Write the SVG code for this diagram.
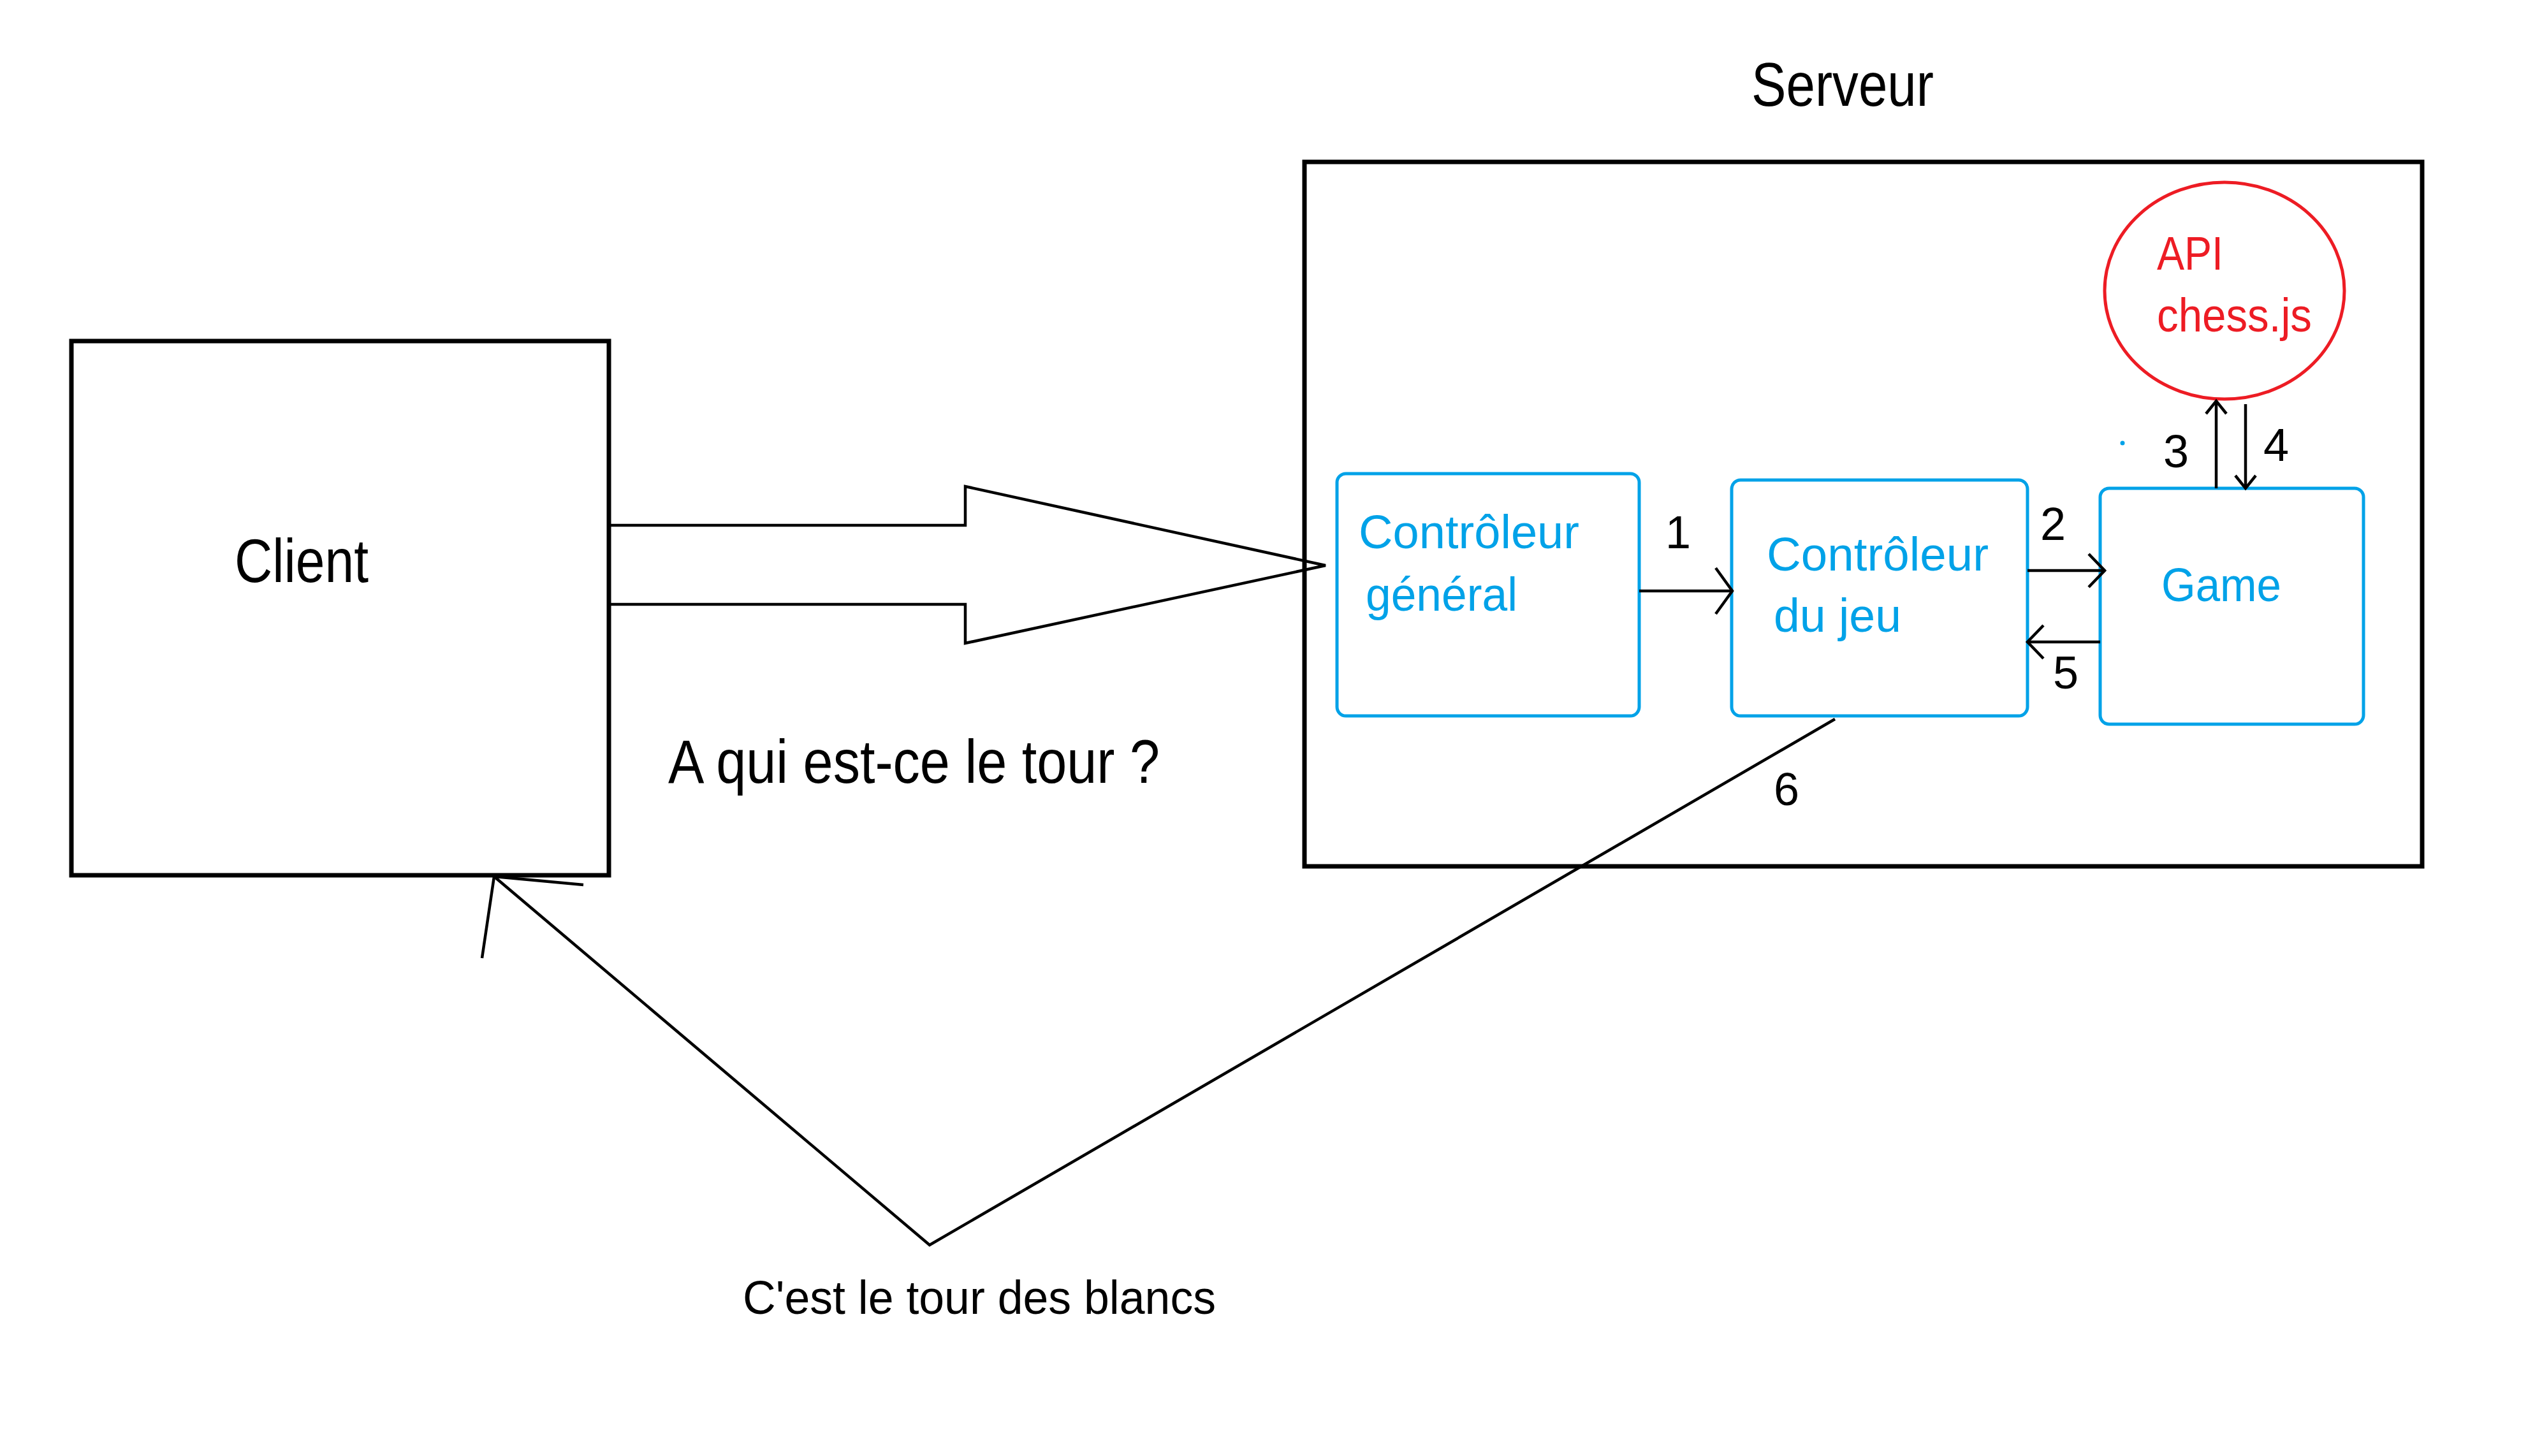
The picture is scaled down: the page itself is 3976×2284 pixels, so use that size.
<svg xmlns="http://www.w3.org/2000/svg" width="3976" height="2284" viewBox="0 0 3976 2284">
<style>
  .bk { fill: none; stroke: #000; stroke-width: 7; }
  .bl { fill: #fff; stroke: #00A2E8; stroke-width: 5; }
  .ln { fill: none; stroke: #000; stroke-width: 4.5; stroke-linejoin: miter; }
  .t { font-family: "Liberation Sans", Arial, sans-serif; }
  .big { font-size: 97px; fill: #000; }
  .mid { font-size: 74px; fill: #000; }
  .blue { font-size: 74px; fill: #00A2E8; }
  .red { font-size: 74px; fill: #ED1C24; }
  .num { font-size: 72px; fill: #000; }
</style>
<defs>
  <marker id="chevL" markerUnits="userSpaceOnUse" viewBox="-32 -42 38 84" refX="0" refY="0" markerWidth="38" markerHeight="84" orient="auto">
    <path d="M -26 -36 L 0 0 L -26 36" fill="none" stroke="#000" stroke-width="4.5"/>
  </marker>
  <marker id="chevM" markerUnits="userSpaceOnUse" viewBox="-32 -32 38 64" refX="0" refY="0" markerWidth="38" markerHeight="64" orient="auto">
    <path d="M -25 -26 L 0 0 L -25 26" fill="none" stroke="#000" stroke-width="4.5"/>
  </marker>
  <marker id="chevS" markerUnits="userSpaceOnUse" viewBox="-26 -22 32 44" refX="0" refY="0" markerWidth="32" markerHeight="44" orient="auto">
    <path d="M -20 -16 L 0 0 L -20 16" fill="none" stroke="#000" stroke-width="4.5"/>
  </marker>
</defs>
<rect width="3976" height="2284" fill="#fff"/>

<g id="server">
  <rect class="bk" x="2046" y="254" width="1753" height="1105"/>
  <text class="t big" x="2747" y="166" textLength="286" lengthAdjust="spacingAndGlyphs">Serveur</text>
</g>

<g id="client">
  <rect class="bk" x="112" y="535" width="843" height="838"/>
  <text class="t big" x="368" y="913" textLength="210" lengthAdjust="spacingAndGlyphs">Client</text>
</g>

<g id="controleur-general">
  <rect class="bl" x="2097" y="743" width="474" height="380" rx="14"/>
  <text class="t blue" x="2131" y="860" textLength="346" lengthAdjust="spacingAndGlyphs">Contrôleur</text>
  <text class="t blue" x="2142" y="958" textLength="238" lengthAdjust="spacingAndGlyphs">général</text>
</g>

<g id="controleur-jeu">
  <rect class="bl" x="2716" y="753" width="464" height="370" rx="14"/>
  <text class="t blue" x="2771" y="895" textLength="348" lengthAdjust="spacingAndGlyphs">Contrôleur</text>
  <text class="t blue" x="2782" y="991" textLength="200" lengthAdjust="spacingAndGlyphs">du jeu</text>
</g>

<g id="game">
  <rect class="bl" x="3294" y="766" width="413" height="370" rx="14"/>
  <text class="t blue" x="3390" y="943" textLength="188" lengthAdjust="spacingAndGlyphs">Game</text>
</g>

<g id="api">
  <ellipse cx="3489" cy="456" rx="188" ry="170" fill="#fff" stroke="#ED1C24" stroke-width="5"/>
  <text class="t red" x="3383" y="423" textLength="104" lengthAdjust="spacingAndGlyphs">API</text>
  <text class="t red" x="3383" y="520" textLength="243" lengthAdjust="spacingAndGlyphs">chess.js</text>
</g>

<g id="connectors">
  <polyline class="ln" points="955,824 1514,824 1514,763 2079,887 1514,1009 1514,948 955,948"/>
  <line class="ln" x1="2571" y1="927" x2="2717" y2="927" marker-end="url(#chevL)"/>
  <line class="ln" x1="3180" y1="895" x2="3301" y2="895" marker-end="url(#chevM)"/>
  <line class="ln" x1="3294" y1="1007" x2="3180" y2="1007" marker-end="url(#chevM)"/>
  <line class="ln" x1="3476" y1="766" x2="3476" y2="629" marker-end="url(#chevS)"/>
  <line class="ln" x1="3522" y1="634" x2="3522" y2="766" marker-end="url(#chevS)"/>
  <polyline class="ln" points="2878,1128 1458,1953 775,1375"/>
  <polyline class="ln" points="915,1388 775,1375 756,1503"/>
  <circle cx="3329" cy="695" r="3.5" fill="#00A2E8"/>
</g>

<g id="labels">
  <text class="t num" x="2612" y="860">1</text>
  <text class="t num" x="3200" y="847">2</text>
  <text class="t num" x="3393" y="733">3</text>
  <text class="t num" x="3550" y="723">4</text>
  <text class="t num" x="3220" y="1080">5</text>
  <text class="t num" x="2782" y="1263">6</text>
  <text class="t big" x="1048" y="1228" textLength="771" lengthAdjust="spacingAndGlyphs">A qui est-ce le tour ?</text>
  <text class="t mid" x="1165" y="2061" textLength="742" lengthAdjust="spacingAndGlyphs">C'est le tour des blancs</text>
</g>
</svg>
